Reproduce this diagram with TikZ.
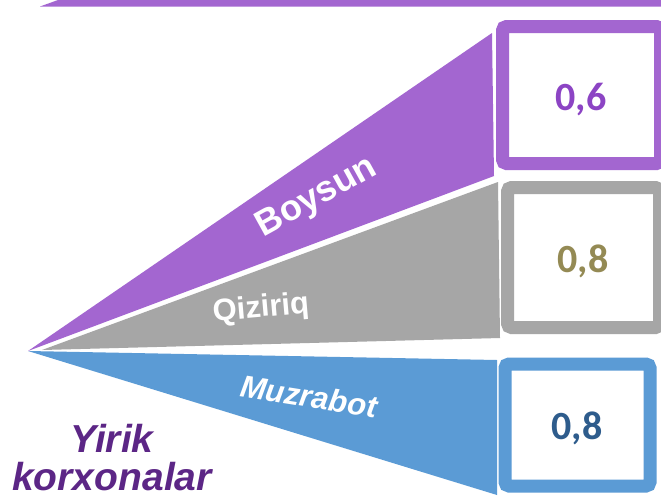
\documentclass[tikz,border=0pt]{standalone}
\usepackage{fontspec}
\setmainfont{Liberation Sans}
\newfontfamily\numfont{Carlito}
\definecolor{binafsha}{RGB}{163,102,208}
\definecolor{kulrang}{RGB}{166,166,166}
\definecolor{moviy}{RGB}{91,155,213}
\definecolor{sonbinafsha}{RGB}{140,68,196}
\definecolor{zaytun}{RGB}{148,138,84}
\definecolor{toqmoviy}{RGB}{46,92,140}
\definecolor{toqbinafsha}{RGB}{92,38,134}

\begin{document}
\begin{tikzpicture} [x = 1pt, y = -1pt,
  quti/.style = {line width = 13pt, rounded corners = 4pt, fill = white},
  son/.style = {font = \numfont\bfseries\fontsize{40}{40}\selectfont, anchor = base},
  nom/.style = {text = white, font = \bfseries\fontsize{30}{30}\selectfont}]
\useasboundingbox (0,0) rectangle (661,499);
\fill[white] (0,0) rectangle (661,499);
\fill[binafsha] (40,6.5) -- (58,0) -- (661,0) -- (661,6.5) -- cycle;
\fill[binafsha] (28,351) -- (492,33) -- (494,176) -- cycle;
\fill[kulrang] (42,350) -- (498,182) -- (500,338) -- cycle;
\fill[moviy] (28,351) -- (497,360) -- (497,495) -- cycle;
\draw[quti, draw = binafsha] (502.5,26.5) rectangle (660.5,163.5);
\draw[quti, draw = kulrang] (507.5,187.5) rectangle (659.5,327.5);
\draw[quti, draw = moviy] (505,364) rectangle (650,486);
\node(s1)[son, text = sonbinafsha] at (581,110) {0,6};
\node(s2)[son, text = zaytun] at (583,272) {0,8};
\node(s3)[son, text = toqmoviy] at (577,439) {0,8};
\node(boysun)[nom, rotate = 29, font = \bfseries\fontsize{36}{36}\selectfont] at (317,198) {Boysun};
\node(qiziriq)[nom, rotate = 5, font = \bfseries\fontsize{31}{31}\selectfont] at (261,309) {Qiziriq};
\node(muzrabot)[nom, rotate = -9, font = \bfseries\itshape\fontsize{31}{31}\selectfont] at (309,396) {Muzrabot};
\node(yirik)[anchor = base, text = toqbinafsha, font = \bfseries\itshape\fontsize{39}{39}\selectfont] at (112,452) {Yirik};
\node(korxonalar)[anchor = base, text = toqbinafsha, font = \bfseries\itshape\fontsize{39}{39}\selectfont] at (112,490) {korxonalar};
\end{tikzpicture}
\end{document}
